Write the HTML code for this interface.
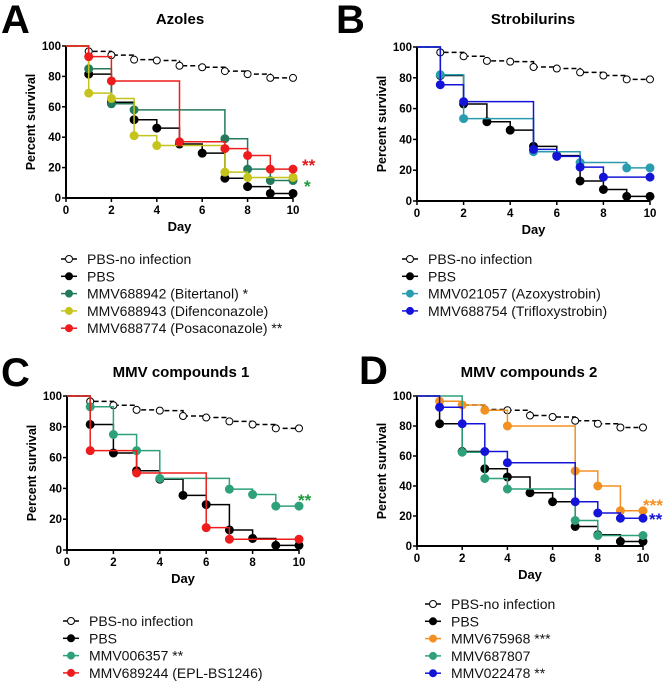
<!DOCTYPE html>
<html><head><meta charset="utf-8"><style>
html,body{margin:0;padding:0;background:#fff;}
svg{display:block;font-family:"Liberation Sans",Arial,sans-serif;}
</style></head><body>
<svg id="fig" width="668" height="683" viewBox="0 0 668 683"></svg>
<script>
// shared data
const days = [1,2,3,4,5,6,7,8,9,10];
const noInfVals = [96.5,94,91,90.5,87,86,83.5,81.5,79,79];
const pbsVals = [81.5,63,51.5,46,35.5,29.5,13,7.5,3,3];
const xTicks = [0,2,4,6,8,10];
const yTicks = [0,20,40,60,80,100];
// Panel A
const bitDays = [1,2,3,7,8,9,10];
const bitVals = [85,62,58,39,19,11.5,11.5];
const difDays = [1,2,3,4,7,8,10];
const difVals = [69,65.5,41,34.5,17,13.5,13.5];
const posDays = [1,2,5,7,8,9,10];
const posVals = [93,77,37,32.5,28,19,19];
// Panel B
const azoDays = [1,2,5,7,9,10];
const azoVals = [82,53.5,32,25,21.5,21.5];
const triDays = [1,2,5,6,7,8,10];
const triVals = [75.5,64.5,33.5,29,22,15.5,15.5];
// Panel C
const m006Days = [1,2,3,4,7,8,9,10];
const m006Vals = [93,75,64.5,46.5,39.5,36,28.5,28.5];
const m689Days = [1,3,6,7,10];
const m689Vals = [64.5,50,14.5,7,7];
// Panel D
const m675Days = [1,2,3,4,7,8,9,10];
const m675Vals = [96.5,94,90.5,80,50,40,23.5,23.5];
const m687Days = [2,3,4,7,8,10];
const m687Vals = [62.5,45,38,17,7,7];
const m022Days = [1,2,3,4,7,8,9,10];
const m022Vals = [92.5,81.5,63,55.5,29.5,22,18.5,18.5];

const NS='http://www.w3.org/2000/svg';
const svg=document.getElementById('fig');
function mk(tag,attrs,parent){const e=document.createElementNS(NS,tag);for(const k in attrs)e.setAttribute(k,attrs[k]);(parent||svg).appendChild(e);return e;}
function txt(s,attrs,parent){const e=mk('text',attrs,parent);e.textContent=s;return e;}

function panel(p){
  const g=mk('g',{});
  
  
  const X=d=>p.x0+(p.x1-p.x0)*d/10, Y=v=>p.y0+(p.y1-p.y0)*v/100;
  const L=txt(p.letter,{x:p.lx,y:p.ly,'font-size':40,'font-weight':'bold'},g);
  
  
  const T=txt(p.title,{x:p.tx,y:p.ty,'font-size':15,'font-weight':'bold','text-anchor':'middle'},g);
  
  
  const ax=mk('path',{d:`M${p.x0},${Y(100)}V${p.y0}H${p.x1}`,stroke:'#000','stroke-width':2,fill:'none'},g);
  
  
  yTicks.forEach(v=>{
    mk('line',{x1:p.x0-4,x2:p.x0,y1:Y(v),y2:Y(v),stroke:'#000','stroke-width':1.5},g);
    const t=txt(v,{x:p.x0-5,y:Y(v)+4,'font-size':11.5,'font-weight':'bold','text-anchor':'end'},g);
    
    
  });
  xTicks.forEach(d=>{
    mk('line',{x1:X(d),x2:X(d),y1:p.y0,y2:p.y0+4,stroke:'#000','stroke-width':1.5},g);
    const t=txt(d,{x:X(d),y:p.y0+16,'font-size':11.5,'font-weight':'bold','text-anchor':'middle'},g);
    
    
  });
  const xt=txt('Day',{x:(p.x0+p.x1)/2,y:p.y0+33,'font-size':13,'font-weight':'bold','text-anchor':'middle'},g);
  
  
  const yc=(p.y0+Y(100))/2;
  const yt=txt('Percent survival',{x:0,y:0,'font-size':12.5,'font-weight':'bold','text-anchor':'middle',transform:`translate(${p.x0-31},${yc}) rotate(-90)`},g);
  
  
  p.series.forEach(s=>{
    let d=`M${X(0)},${Y(100)}`;
    s.d.forEach((dd,i)=>{d+=`H${X(dd)}V${Y(s.v[i])}`;});
    const path=mk('path',{d:d,stroke:s.c,'stroke-width':1.5,fill:'none','stroke-dasharray':s.dash?'5,3':'none'},g);
    
    
    s.d.forEach((dd,i)=>{
      const c=mk('circle',{cx:X(dd),cy:Y(s.v[i]),r:s.open?3.5:4,fill:s.open?'#fff':s.c,stroke:s.c,'stroke-width':1},g);
      
      
    });
  });
  (p.stars||[]).forEach(a=>{
    const t=txt(a.s,{x:a.x,y:a.y,'font-size':17,'font-weight':'bold',fill:a.c},g);
    
    
  });
  p.series.forEach((s,i)=>{
    const ly=p.legY+i*17.3;
    const lg=mk('g',{},g);
    
    
    mk('line',{x1:p.legX,x2:p.legX+16,y1:ly,y2:ly,stroke:s.c,'stroke-width':1.5,'stroke-dasharray':s.dash?'4,2':'none'},lg);
    mk('circle',{cx:p.legX+8,cy:ly,r:3.5,fill:s.open?'#fff':s.c,stroke:s.c,'stroke-width':1},lg);
    txt(s.label,{x:p.legX+26,y:ly+5,'font-size':14,fill:'#111'},lg);
  });
}
const noInf={name:'pbs-no-infection',label:'PBS-no infection',d:days,v:noInfVals,c:'#000',dash:true,open:true};
const pbs={name:'pbs',label:'PBS',d:days,v:pbsVals,c:'#000'};
panel({id:'a',letter:'A',lx:1,ly:33,title:'Azoles',tx:180,ty:24,x0:66,x1:293,y0:198,y1:46,legX:61,legY:259,
 series:[noInf,pbs,
  {name:'bitertanol',label:'MMV688942 (Bitertanol) *',d:bitDays,v:bitVals,c:'#237a5c'},
  {name:'difenconazole',label:'MMV688943 (Difenconazole)',d:difDays,v:difVals,c:'#c4c41c'},
  {name:'posaconazole',label:'MMV688774 (Posaconazole) **',d:posDays,v:posVals,c:'#ee1c1c'}],
 stars:[{s:'**',x:302,y:171,c:'#e31a1c'},{s:'*',x:304,y:192,c:'#1a9a3a'}]});
panel({id:'b',letter:'B',lx:336,ly:33,title:'Strobilurins',tx:533,ty:24,x0:417,x1:650,y0:201,y1:47,legX:402,legY:259,
 series:[noInf,pbs,
  {name:'azoxystrobin',label:'MMV021057 (Azoxystrobin)',d:azoDays,v:azoVals,c:'#2a9cb0'},
  {name:'trifloxystrobin',label:'MMV688754 (Trifloxystrobin)',d:triDays,v:triVals,c:'#1414d8'}]});
panel({id:'c',letter:'C',lx:1,ly:386,title:'MMV compounds 1',tx:181,ty:377,x0:67,x1:299,y0:550,y1:396,legX:63,legY:621,
 series:[noInf,pbs,
  {name:'mmv006357',label:'MMV006357 **',d:m006Days,v:m006Vals,c:'#2ea07a'},
  {name:'mmv689244',label:'MMV689244 (EPL-BS1246)',d:m689Days,v:m689Vals,c:'#ee1c1c'}],
 stars:[{s:'**',x:298,y:506,c:'#1a9a3a'}]});
panel({id:'d',letter:'D',lx:359,ly:384,title:'MMV compounds 2',tx:529,ty:377,x0:417,x1:643,y0:546,y1:396,legX:425,legY:604,
 series:[noInf,pbs,
  {name:'mmv675968',label:'MMV675968 ***',d:m675Days,v:m675Vals,c:'#f39022'},
  {name:'mmv687807',label:'MMV687807',d:m687Days,v:m687Vals,c:'#2ea07a'},
  {name:'mmv022478',label:'MMV022478 **',d:m022Days,v:m022Vals,c:'#1414d8'}],
 stars:[{s:'***',x:643,y:511,c:'#f39022'},{s:'**',x:649,y:525,c:'#1414d8'}]});
</script>
</body></html>
